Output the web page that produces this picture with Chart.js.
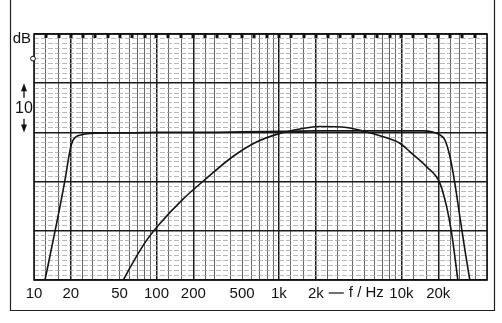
<!DOCTYPE html>
<html>
<head>
<meta charset="utf-8">
<script src="https://cdn.jsdelivr.net/npm/chart.js@4.4.1/dist/chart.umd.min.js"></script>
<style>
  html, body { margin: 0; padding: 0; background: #fff; }
  #wrap { width: 502px; height: 323px; }
</style>
</head>
<body>
<div id="wrap"><canvas id="resp" width="502" height="323"></canvas></div>
<script>
/* global Chart */
// frequency response on log paper: two curves, f 10 Hz .. 50 kHz, 50 dB span

const xLabelFreqs = [10, 20, 50, 100, 200, 500, 1000, 2000, 10000, 20000];
const xLabelTexts = ["10", "20", "50", "100", "200", "500", "1k", "2k", "10k", "20k"];
const boldFreqs = [20, 100, 200, 1000, 2000, 10000, 20000];
const gridSteps = [1, 1.25, 1.6, 2, 2.5, 3, 4, 5, 6, 7, 8, 9];
const thirdOctave = [12.5, 16, 20, 25, 31.5, 40, 50, 63, 80, 100, 125, 160, 200, 250, 315, 400,
  500, 630, 800, 1000, 1250, 1600, 2000, 2500, 3150, 4000, 5000, 6300, 8000, 10000,
  12500, 16000, 20000, 25000, 31500, 40000];

// wide (flat) response
const wideFreq = [12.3, 15.3, 17.9, 19.7, 20.9, 24.5, 29.6, 40, 60, 100, 200, 500, 1000, 2000,
  5000, 10000, 15000, 18000, 20600, 22600, 24900, 27300, 30000, 33000, 36200];
const wideDb = [0, 11.5, 20.3, 26.4, 28.5, 29.5, 29.8, 29.9, 29.9, 30, 30, 30.1, 30.2, 30.3,
  30.3, 30.3, 30.3, 30.1, 29.5, 28.5, 25.1, 19.7, 12.9, 6.1, 0];

// narrow (dome) response
const domeFreq = [53.6, 64.7, 83.2, 106.8, 165.6, 257, 421, 650, 1019, 1484, 2161, 3571, 5200,
  7570, 9720, 11700, 16100, 20600, 23400, 25700, 28900];
const domeDb = [0, 3.7, 8.1, 11.5, 16.5, 20.7, 25.1, 28.0, 29.8, 30.7, 31.2, 31.0, 30.1,
  28.9, 27.8, 26.1, 23.0, 19.7, 14.9, 9.6, 0];

const F_MIN = 10, F_MAX = 50000, DB_MIN = 0, DB_MAX = 50, DB_REF = 45;
const FONT = "'Liberation Sans Narrow', 'Liberation Sans', Arial, sans-serif";

const toPts = (xs, ys) => xs.map((x, i) => ({ x, y: ys[i] }));

const gridFreqs = (() => {
  const out = [];
  for (let d = 10; d <= F_MAX; d *= 10) {
    gridSteps.forEach((s) => {
      const v = Math.round(d * s * 100) / 100;
      if (v >= F_MIN && v <= F_MAX) out.push(v);
    });
  }
  return out;
})();

const paperDeco = {
  id: "paperDeco",
  afterDraw(chart) {
    const { ctx, chartArea: a, scales } = chart;
    const xs = scales.x, ys = scales.y;
    ctx.save();

    // outer sheet frame
    ctx.strokeStyle = "#222";
    ctx.lineWidth = 1.2;
    ctx.beginPath();
    ctx.moveTo(10.5, 0);
    ctx.lineTo(10.5, 310.5);
    ctx.lineTo(494.5, 310.5);
    ctx.lineTo(494.5, 0);
    ctx.stroke();

    // plot frame
    ctx.lineWidth = 1.6;
    ctx.strokeStyle = "#111";
    ctx.strokeRect(a.left, a.top, a.right - a.left, a.bottom - a.top);

    // third-octave marks on top edge
    ctx.fillStyle = "#111";
    thirdOctave.forEach((f) => {
      const px = xs.getPixelForValue(f);
      ctx.fillRect(Math.round(px) - 1.5, a.top, 3, 4);
    });

    // reference circle
    ctx.lineWidth = 1;
    ctx.fillStyle = "#fff";
    ctx.beginPath();
    ctx.arc(a.left - 1, ys.getPixelForValue(DB_REF), 2.4, 0, Math.PI * 2);
    ctx.fill();
    ctx.stroke();

    // dB unit
    ctx.fillStyle = "#111";
    ctx.font = `15px ${FONT}`;
    ctx.textAlign = "right";
    ctx.textBaseline = "middle";
    ctx.fillText("dB", a.left - 3, a.top + 5);

    // 10 dB arrow
    const ax = 24;
    const yTop = ys.getPixelForValue(40), yBot = ys.getPixelForValue(30);
    const yMid = (yTop + yBot) / 2;
    ctx.lineWidth = 1.3;
    ctx.beginPath();
    ctx.moveTo(ax, yTop + 6); ctx.lineTo(ax, yMid - 10);
    ctx.moveTo(ax, yMid + 11); ctx.lineTo(ax, yBot - 6);
    ctx.stroke();
    ctx.beginPath();
    ctx.moveTo(ax, yTop); ctx.lineTo(ax - 3, yTop + 8); ctx.lineTo(ax + 3, yTop + 8); ctx.closePath();
    ctx.moveTo(ax, yBot); ctx.lineTo(ax - 3, yBot - 8); ctx.lineTo(ax + 3, yBot - 8); ctx.closePath();
    ctx.fill();
    ctx.font = `16px ${FONT}`;
    ctx.textAlign = "center";
    ctx.fillText("10", ax, yMid + 1);

    // axis title between 2k and 10k
    ctx.font = `15px ${FONT}`;
    const tx = xs.getPixelForValue(2000) + 13;
    const ty = a.bottom + 13;
    ctx.lineWidth = 1.2;
    ctx.beginPath();
    ctx.moveTo(tx, ty); ctx.lineTo(tx + 15, ty);
    ctx.stroke();
    ctx.textAlign = "left";
    ctx.fillText("f / Hz", tx + 20, ty);

    ctx.restore();
  },
};

const lineStyle = {
  borderColor: "#151515",
  borderWidth: 1.6,
  pointRadius: 0,
  cubicInterpolationMode: "monotone",
  fill: false,
};

new Chart(document.getElementById("resp"), {
  type: "line",
  data: {
    datasets: [
      { label: "wide", data: toPts(wideFreq, wideDb), ...lineStyle },
      { label: "dome", data: toPts(domeFreq, domeDb), ...lineStyle },
    ],
  },
  options: {
    responsive: false,
    animation: false,
    events: [],
    layout: { padding: { left: 0, right: 15, top: 34, bottom: 0 } },
    plugins: { legend: { display: false }, tooltip: { enabled: false } },
    scales: {
      x: {
        type: "logarithmic",
        min: F_MIN,
        max: F_MAX,
        afterBuildTicks: (s) => { s.ticks = gridFreqs.map((v) => ({ value: v })); },
        afterFit: (s) => { s.height = 43; },
        border: { display: false },
        grid: {
          drawTicks: false,
          color: (c) => (c.tick && boldFreqs.includes(c.tick.value) ? "#1a1a1a" : "#555"),
          lineWidth: (c) => (c.tick && boldFreqs.includes(c.tick.value) ? 1.5 : 0.9),
        },
        ticks: {
          autoSkip: false,
          maxRotation: 0,
          padding: 5,
          color: "#111",
          font: { family: FONT, size: 15 },
          callback: (v) => {
            const i = xLabelFreqs.indexOf(v);
            return i >= 0 ? xLabelTexts[i] : "";
          },
        },
      },
      y: {
        type: "linear",
        min: DB_MIN,
        max: DB_MAX,
        afterFit: (s) => { s.width = 34; },
        border: { display: false, dash: (c) => (c.tick && c.tick.value % 10 === 0 ? [] : [5, 2]) },
        grid: {
          drawTicks: false,
          color: (c) => (c.tick && c.tick.value % 10 === 0 ? "#1a1a1a" : "#a8a8a8"),
          lineWidth: (c) => (c.tick && c.tick.value % 10 === 0 ? 1.4 : 0.8),
        },
        ticks: { display: false, stepSize: 1 },
      },
    },
  },
  plugins: [paperDeco],
});
</script>
</body>
</html>
